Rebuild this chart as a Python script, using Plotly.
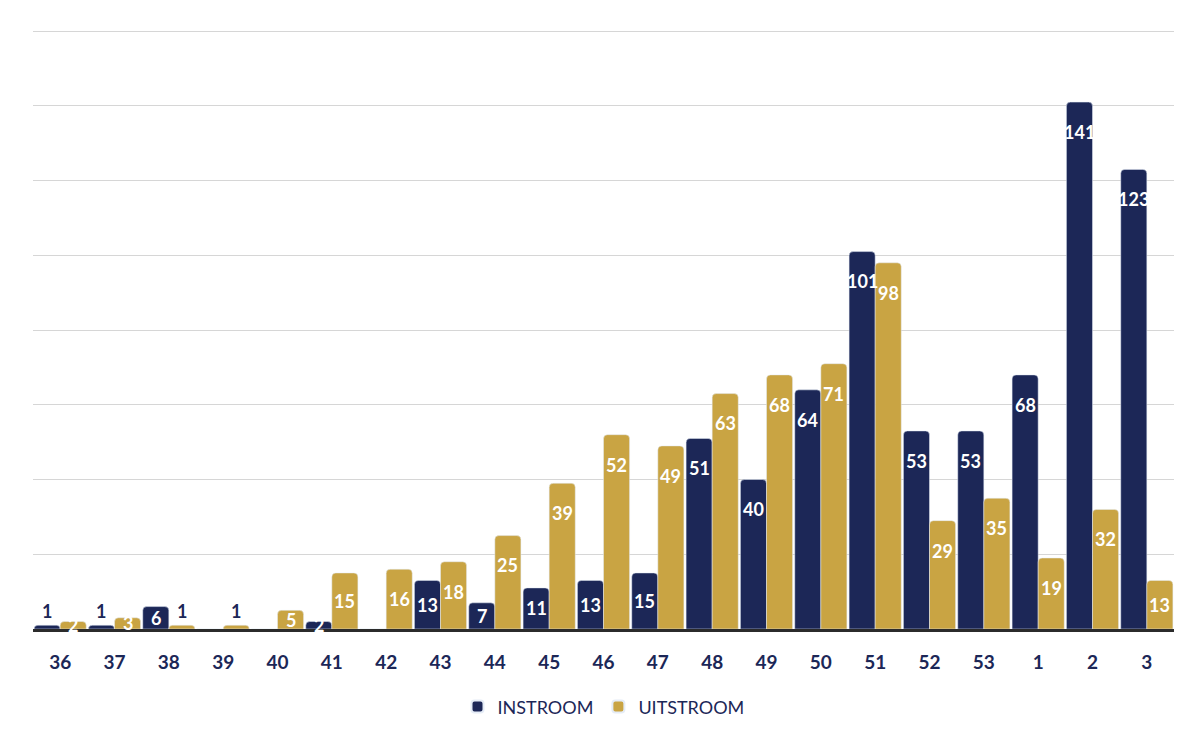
import plotly.graph_objects as go

weeks = ["36", "37", "38", "39", "40", "41", "42", "43", "44", "45", "46",
         "47", "48", "49", "50", "51", "52", "53", "1", "2", "3"]
instroom = [1, 1, 6, 0, 0, 2, 0, 13, 7, 11, 13, 15, 51, 40, 64, 101, 53, 53, 68, 141, 123]
uitstroom = [2, 3, 1, 1, 5, 15, 16, 18, 25, 39, 52, 49, 63, 68, 71, 98, 29, 35, 19, 32, 13]

NAVY = "#1c2757"
GOLD = "#c9a443"
YMAX = 160.3

fig = go.Figure()
fig.add_trace(go.Bar(name="INSTROOM", x=weeks, y=instroom, marker_color=NAVY))
fig.add_trace(go.Bar(name="UITSTROOM", x=weeks, y=uitstroom, marker_color=GOLD))

BARGAP = 0.04
half = (1 - BARGAP) / 4
annotations = []
for series, off in ((instroom, -half), (uitstroom, half)):
    for i, v in enumerate(series):
        if v == 0:
            continue
        if v <= 1:
            annotations.append(dict(x=i + off, y=v, xref="x", yref="y", text=str(v),
                                    showarrow=False, yanchor="bottom", yshift=1,
                                    font=dict(family="Lato", size=18, color=NAVY, weight="bold")))
        else:
            annotations.append(dict(x=i + off, y=v - min(8, v / 2), xref="x", yref="y",
                                    text=str(v), showarrow=False, yanchor="middle",
                                    font=dict(family="Lato", size=18, color="white", weight="bold")))

fig.update_layout(
    barmode="group",
    bargap=BARGAP,
    bargroupgap=0.0,
    barcornerradius=4,
    width=1200, height=739,
    margin=dict(l=25, r=34, t=22, b=118),
    paper_bgcolor="white",
    plot_bgcolor="white",
    showlegend=True,
    legend=dict(orientation="h", x=0.5, xanchor="center", y=-0.13, yanchor="middle",
                font=dict(family="Lato", size=18, color=NAVY), itemsizing="constant"),
    annotations=annotations,
    xaxis=dict(type="category", showline=True, linecolor="#2b2b2b", linewidth=3,
               ticks="", ticklabelstandoff=14,
               tickfont=dict(family="Lato", size=19, color=NAVY, weight="bold")),
    yaxis=dict(range=[0, YMAX], dtick=20, showticklabels=False, showgrid=True,
               gridcolor="#d6d6d6", gridwidth=1, zeroline=False),
)

fig.write_html("out.html")
